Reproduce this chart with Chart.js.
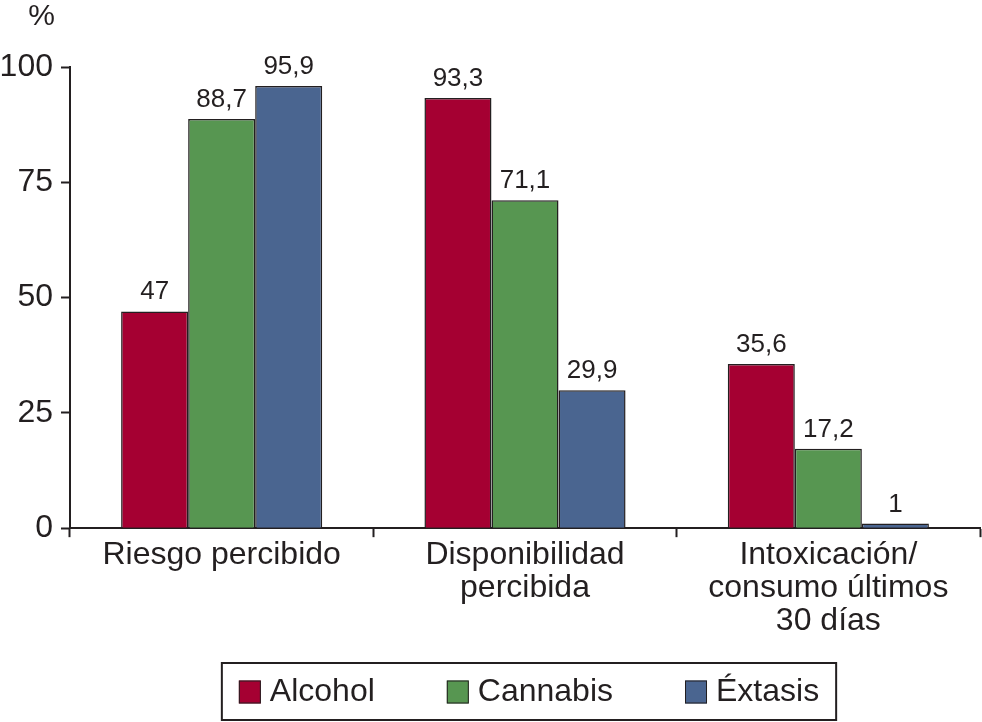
<!DOCTYPE html>
<html>
<head>
<meta charset="utf-8">
<script src="https://cdn.jsdelivr.net/npm/chart.js@4.4.1/dist/chart.umd.min.js"></script>
<style>
  html, body { margin: 0; padding: 0; background: #fff; }
  #wrap { width: 982px; height: 722px; position: relative; }
</style>
</head>
<body>
<div id="wrap"><canvas id="barChart"></canvas></div>
<script>
// categories and values
var categories = [
    'Riesgo percibido',
    ['Disponibilidad', 'percibida'],
    ['Intoxicación/', 'consumo últimos', '30 días']
];
var alcohol = [47, 93.3, 35.6];
var cannabis = [88.7, 71.1, 17.2];
var extasis = [95.9, 29.9, 1];
var yTicks = [0, 25, 50, 75, 100];

var ink = '#231f20';
var fontFam = '"Liberation Sans", Arial, sans-serif';

// value labels above each bar, with comma decimals
var valueLabels = {
    id: 'valueLabels',
    afterDatasetsDraw: function (chart) {
        var ctx = chart.ctx;
        ctx.save();
        ctx.font = '26px ' + fontFam;
        ctx.fillStyle = ink;
        ctx.textAlign = 'center';
        ctx.textBaseline = 'alphabetic';
        chart.data.datasets.forEach(function (ds, i) {
            chart.getDatasetMeta(i).data.forEach(function (bar, j) {
                var txt = String(ds.data[j]).replace('.', ',');
                ctx.fillText(txt, bar.x, bar.y - 12);
            });
        });
        ctx.restore();
    }
};

// "%" over the y axis and a boxed legend at the bottom
var extras = {
    id: 'extras',
    afterDraw: function (chart) {
        var ctx = chart.ctx;
        var yScale = chart.scales.y;
        ctx.save();
        ctx.fillStyle = ink;
        ctx.font = '30px ' + fontFam;
        ctx.textAlign = 'right';
        ctx.textBaseline = 'alphabetic';
        ctx.fillText('%', yScale.right - 15, 25);

        // legend
        ctx.font = '32px ' + fontFam;
        var box = 22, gapText = 9, gapItem = 72, pad = 17;
        var items = chart.data.datasets.map(function (ds) {
            return { label: ds.label, color: ds.backgroundColor, w: ctx.measureText(ds.label).width };
        });
        var total = pad * 2;
        items.forEach(function (it, i) {
            total += box + gapText + it.w + (i ? gapItem : 0);
        });
        var cx = (chart.chartArea.left + chart.chartArea.right) / 2 + 4;
        var left = cx - total / 2;
        var top = chart.height - 59, h = 57;
        ctx.strokeStyle = ink;
        ctx.lineWidth = 2;
        ctx.strokeRect(left, top, total, h);
        var x = left + pad, mid = top + h / 2;
        ctx.textAlign = 'left';
        ctx.textBaseline = 'middle';
        items.forEach(function (it) {
            ctx.fillStyle = it.color;
            ctx.fillRect(x, mid - 11, box, 23);
            ctx.lineWidth = 1;
            ctx.strokeRect(x + 0.5, mid - 10.5, box - 1, 22);
            ctx.fillStyle = ink;
            ctx.fillText(it.label, x + box + gapText, mid + 1);
            x += box + gapText + it.w + gapItem;
        });
        ctx.restore();
    }
};

document.addEventListener('DOMContentLoaded', function () {
    var ctx = document.getElementById('barChart').getContext('2d');

    var barStyle = {
        borderColor: ink,
        borderWidth: 1.5,
        borderSkipped: 'start',
        categoryPercentage: 0.663,
        barPercentage: 1
    };

    new Chart(ctx, {
        type: 'bar',
        data: {
            labels: categories,
            datasets: [
                Object.assign({ label: 'Alcohol', data: alcohol, backgroundColor: '#a50032' }, barStyle),
                Object.assign({ label: 'Cannabis', data: cannabis, backgroundColor: '#579651' }, barStyle),
                Object.assign({ label: 'Éxtasis', data: extasis, backgroundColor: '#4a6590' }, barStyle)
            ]
        },
        options: {
            responsive: true,
            maintainAspectRatio: false,
            animation: false,
            layout: { padding: { top: 67, right: 2, bottom: 83, left: 0 } },
            plugins: {
                legend: { display: false },
                tooltip: { enabled: false }
            },
            scales: {
                x: {
                    grid: {
                        display: true,
                        offset: true,
                        drawOnChartArea: false,
                        drawTicks: true,
                        tickLength: 9,
                        tickWidth: 2,
                        color: ink
                    },
                    border: { display: true, color: ink, width: 2 },
                    ticks: {
                        color: ink,
                        padding: 1,
                        maxRotation: 0,
                        autoSkip: false,
                        font: { family: fontFam, size: 32, lineHeight: 1.04 }
                    }
                },
                y: {
                    min: 0,
                    max: 100,
                    afterFit: function (axis) { axis.width = 70; },
                    afterBuildTicks: function (axis) {
                        axis.ticks = yTicks.map(function (v) { return { value: v }; });
                    },
                    grid: {
                        display: true,
                        drawOnChartArea: false,
                        drawTicks: true,
                        tickLength: 9,
                        tickWidth: 2,
                        color: ink
                    },
                    border: { display: true, color: ink, width: 2 },
                    ticks: {
                        color: ink,
                        padding: 8,
                        font: { family: fontFam, size: 32 }
                    }
                }
            }
        },
        plugins: [valueLabels, extras]
    });
});
</script>
</body>
</html>
